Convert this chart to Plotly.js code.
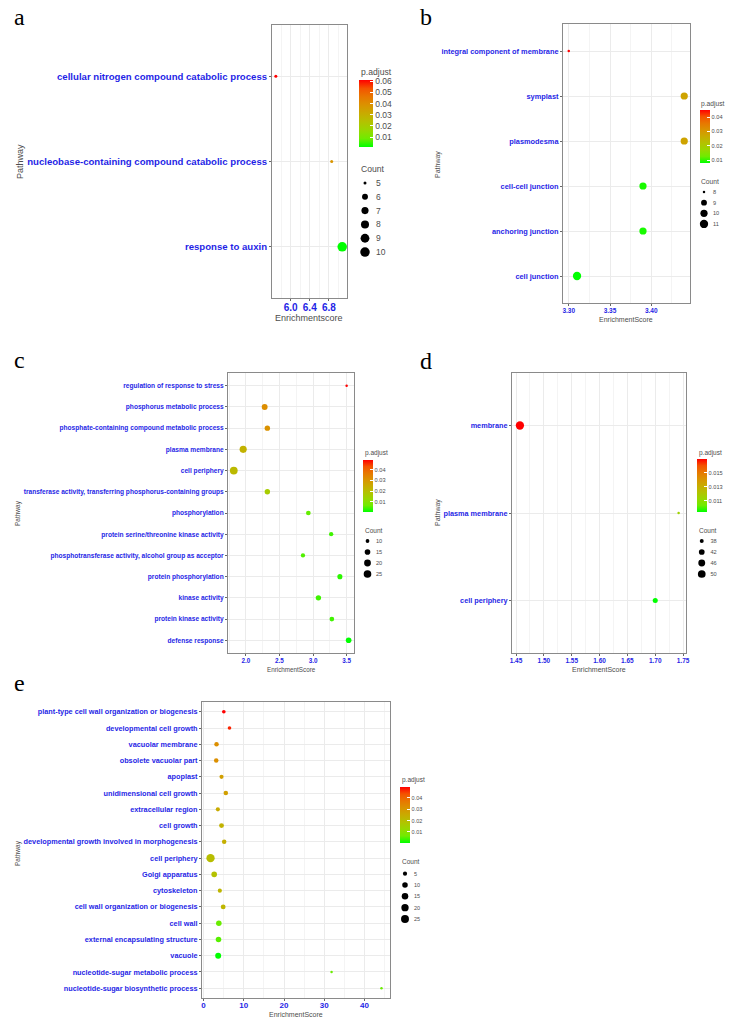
<!DOCTYPE html>
<html>
<head>
<meta charset="utf-8">
<script src="https://cdn.plot.ly/plotly-3.0.1.min.js"></script>
<style>
html,body{margin:0;padding:0;background:#fff;}
#chart{width:736px;height:1027px;}
</style>
</head>
<body>
<div id="chart"></div>
<script>
// ---------------- DATA ----------------
// Panel a
const pathA = ['cellular nitrogen compound catabolic process','nucleobase-containing compound catabolic process','response to auxin'];
const scoreA = [5.69, 6.86, 7.08];
const countA = [5, 5, 10];
const padjA = [0.061, 0.038, 0.0012];
const countBreaksA = [5, 6, 7, 8, 9, 10];
const padjTicksA = [0.01, 0.02, 0.03, 0.04, 0.05, 0.06];

// Panel b
const pathB = ['integral component of membrane','symplast','plasmodesma','cell-cell junction','anchoring junction','cell junction'];
const scoreB = [3.30, 3.44, 3.44, 3.39, 3.39, 3.31];
const countB = [8, 10, 10, 10, 10, 11];
const padjB = [0.045, 0.028, 0.028, 0.009, 0.009, 0.008];
const countBreaksB = [8, 9, 10, 11];
const padjTicksB = [0.01, 0.02, 0.03, 0.04];

// Panel c
const pathC = ['regulation of response to stress','phosphorus metabolic process','phosphate-containing compound metabolic process','plasma membrane','cell periphery','transferase activity, transferring phosphorus-containing groups','phosphorylation','protein serine/threonine kinase activity','phosphotransferase activity, alcohol group as acceptor','protein phosphorylation','kinase activity','protein kinase activity','defense response'];
const scoreC = [3.50, 2.28, 2.32, 1.96, 1.82, 2.32, 2.93, 3.27, 2.85, 3.40, 3.08, 3.28, 3.53];
const countC = [9, 16, 14, 22, 26, 14, 12, 11, 11, 13, 14, 12, 15];
const padjC = [0.049, 0.032, 0.031, 0.023, 0.021, 0.016, 0.006, 0.004, 0.005, 0.003, 0.004, 0.004, 0.0006];
const countBreaksC = [10, 15, 20, 25];
const padjTicksC = [0.01, 0.02, 0.03, 0.04];

// Panel d
const pathD = ['membrane','plasma membrane','cell periphery'];
const scoreD = [1.457, 1.742, 1.700];
const countD = [53, 37, 40];
const padjD = [0.017, 0.0115, 0.0094];
const countBreaksD = [38, 42, 46, 50];
const padjTicksD = [0.011, 0.013, 0.015];

// Panel e
const pathE = ['plant-type cell wall organization or biogenesis','developmental cell growth','vacuolar membrane','obsolete vacuolar part','apoplast','unidimensional cell growth','extracellular region','cell growth','developmental growth involved in morphogenesis','cell periphery','Golgi apparatus','cytoskeleton','cell wall organization or biogenesis','cell wall','external encapsulating structure','vacuole','nucleotide-sugar metabolic process','nucleotide-sugar biosynthetic process'];
const scoreE = [5.04, 6.45, 3.23, 3.15, 4.47, 5.54, 3.56, 4.47, 5.13, 1.74, 2.65, 4.05, 4.88, 3.80, 3.72, 3.64, 31.8, 44.2];
const countE = [4, 4, 6, 6, 5, 6, 5, 7, 6, 28, 10, 5, 7, 10, 10, 12, 3, 3];
const padjE = [0.0497, 0.047, 0.032, 0.032, 0.028, 0.028, 0.025, 0.023, 0.024, 0.020, 0.019, 0.022, 0.022, 0.006, 0.005, 0.0002, 0.006, 0.006];
const countBreaksE = [5, 10, 15, 20, 25];
const padjTicksE = [0.01, 0.02, 0.03, 0.04];

// ---------------- STYLE ----------------
const W = 736, H = 1027;
const px = v => v / W;
const py = v => 1 - v / H;
const FONT = 'Liberation Sans, Arial, Helvetica, sans-serif';
const SERIF = 'Liberation Serif, Times New Roman, serif';
const BLUE = '#1f1fe6';
const GREY = '#4d4d4d';
const CS = [[0,'rgb(0,255,0)'],[0.125,'rgb(112,235,0)'],[0.25,'rgb(152,215,0)'],[0.375,'rgb(179,194,0)'],[0.5,'rgb(200,171,0)'],[0.625,'rgb(218,147,0)'],[0.75,'rgb(232,119,0)'],[0.875,'rgb(244,83,0)'],[1,'rgb(255,0,0)']];

const panels = [
  {path:pathA, score:scoreA, count:countA, padj:padjA, breaks:countBreaksA, cticks:padjTicksA, cfmt:'.2f',
   box:[272,347,25,298], xr:[5.61,7.18], tick0:6.0, dtick:0.4, xfmt:'.1f', xfont:10, xstand:-2, yfont:9.6, dmin:3, dmax:9.5,
   cb:{x:359,y:80,len:67,th:14,font:8.5}, cbTitle:{x:359,y:72,size:8.6},
   leg:{x0:358,x1:372,y0:176,y1:259,font:8.5}, legTitle:{x:359,y:169,size:8.6},
   letter:{t:'a',x:12,y:27}, pathway:{x:20,y:162,size:9}, xtitle:{t:'Enrichmentscore',x:309,y:318,size:9}},
  {path:pathB, score:scoreB, count:countB, padj:padjB, breaks:countBreaksB, cticks:padjTicksB, cfmt:'.2f',
   box:[563,690,24,303], xr:[3.293,3.447], tick0:3.30, dtick:0.05, xfmt:'.2f', xfont:6.5, xstand:-1, yfont:7.4, dmin:2.5, dmax:8.3,
   cb:{x:700,y:110,len:53,th:10,font:5.6}, cbTitle:{x:699,y:104,size:6.7},
   leg:{x0:699,x1:709,y0:186.7,y1:229.3,font:5.6}, legTitle:{x:699,y:181.5,size:6.7},
   letter:{t:'b',x:418,y:27}, pathway:{x:438,y:165,size:7}, xtitle:{t:'EnrichmentScore',x:626,y:319,size:7}},
  {path:pathC, score:scoreC, count:countC, padj:padjC, breaks:countBreaksC, cticks:padjTicksC, cfmt:'.2f',
   box:[228,354,373,653], xr:[1.734,3.61], tick0:2.0, dtick:0.5, xfmt:'.1f', xfont:6.3, xstand:-1, yfont:6.6, dmin:2.5, dmax:7.8,
   cb:{x:363,y:460,len:52,th:10,font:5.6}, cbTitle:{x:363,y:453,size:6.5},
   leg:{x0:363,x1:372,y0:535.5,y1:579.5,font:5.6}, legTitle:{x:363,y:530,size:6.5},
   letter:{t:'c',x:12,y:370}, pathway:{x:18,y:513,size:6.5}, xtitle:{t:'EnrichmentScore',x:291,y:669,size:6.3}},
  {path:pathD, score:scoreD, count:countD, padj:padjD, breaks:countBreaksD, cticks:padjTicksD, cfmt:'.3f',
   box:[512,686,373,653], xr:[1.4428,1.7552], tick0:1.45, dtick:0.05, xfmt:'.2f', xfont:6.5, xstand:-1, yfont:7.3, dmin:2.5, dmax:8.3,
   cb:{x:697,y:459,len:53,th:10,font:5.6}, cbTitle:{x:697,y:453,size:6.5},
   leg:{x0:697,x1:706.5,y0:535.5,y1:579.5,font:5.6}, legTitle:{x:697,y:530,size:6.5},
   letter:{t:'d',x:418,y:370.7}, pathway:{x:438,y:513,size:7}, xtitle:{t:'EnrichmentScore',x:599,y:669.3,size:7}},
  {path:pathE, score:scoreE, count:countE, padj:padjE, breaks:countBreaksE, cticks:padjTicksE, cfmt:'.2f',
   box:[202,390,702,998], xr:[-0.38,46.32], tick0:0, dtick:10, xfmt:'d', xfont:8, xstand:-3, yfont:7.3, dmin:2.5, dmax:8.3,
   cb:{x:400,y:787,len:56,th:10,font:5.5}, cbTitle:{x:400,y:780,size:6.5},
   leg:{x0:400,x1:410,y0:868,y1:924.7,font:5.5}, legTitle:{x:400,y:861,size:6.5},
   letter:{t:'e',x:12,y:692.7}, pathway:{x:18,y:853,size:6.5}, xtitle:{t:'EnrichmentScore',x:296,y:1014,size:7}}
];

function sizeScale(counts, dmin, dmax) {
  const lo = Math.min(...counts), hi = Math.max(...counts);
  return c => {
    const t = Math.max(0, Math.min(1, (c - lo) / (hi - lo)));
    return dmin + (dmax - dmin) * Math.sqrt(t);
  };
}

const traces = [];
const layout = {
  width: W, height: H,
  margin: {l:0, r:0, t:0, b:0},
  paper_bgcolor: '#fff', plot_bgcolor: '#fff',
  showlegend: false,
  font: {family: FONT, color: GREY},
  annotations: []
};

panels.forEach((p, i) => {
  const n = i + 1;
  const sfx = n === 1 ? '' : String(n);
  const ln = n + 5;
  const sz = sizeScale(p.count, p.dmin, p.dmax);
  const cmin = Math.min(...p.padj), cmax = Math.max(...p.padj);

  traces.push({
    type: 'scatter', mode: 'markers',
    x: p.score, y: p.path,
    xaxis: 'x' + sfx, yaxis: 'y' + sfx,
    marker: {
      size: p.count.map(sz), color: p.padj, colorscale: CS, cmin: cmin, cmax: cmax,
      line: {width: 0}, opacity: 1,
      showscale: true,
      colorbar: {
        x: px(p.cb.x), xanchor: 'left', y: py(p.cb.y), yanchor: 'top',
        len: p.cb.len, lenmode: 'pixels', thickness: p.cb.th, thicknessmode: 'pixels',
        xpad: 0, ypad: 0, outlinewidth: 0,
        tickmode: 'array', tickvals: p.cticks, tickformat: p.cfmt,
        ticks: 'inside', ticklen: 3, tickcolor: '#ffffff', tickwidth: 1,
        tickfont: {family: FONT, size: p.cb.font, color: GREY},
        title: {text: ''}
      }
    },
    hoverinfo: 'skip'
  });

  // size legend
  traces.push({
    type: 'scatter', mode: 'markers',
    x: p.breaks.map(() => 0), y: p.breaks.map(String),
    xaxis: 'x' + ln, yaxis: 'y' + ln,
    marker: {size: p.breaks.map(sz), color: '#000000', opacity: 1, line: {width: 0}},
    hoverinfo: 'skip'
  });

  layout['xaxis' + sfx] = {
    domain: [px(p.box[0]), px(p.box[1])], anchor: 'y' + sfx,
    range: p.xr, tickmode: 'linear', tick0: p.tick0, dtick: p.dtick, tickformat: p.xfmt,
    showline: true, mirror: true, linecolor: '#8a8a8a', linewidth: 1,
    showgrid: true, gridcolor: '#ebebeb', gridwidth: 1, zeroline: false,
    ticks: 'outside', ticklen: 2, tickcolor: '#666', tickwidth: 1,
    ticklabelstandoff: p.xstand,
    tickfont: {family: FONT, size: p.xfont, color: BLUE, weight: 'bold'},
    minor: {tick0: p.tick0, dtick: p.dtick / 2, showgrid: true, gridcolor: '#f4f4f4', gridwidth: 1, ticks: ''},
    fixedrange: true
  };
  layout['yaxis' + sfx] = {
    domain: [py(p.box[3]), py(p.box[2])], anchor: 'x' + sfx,
    type: 'category', categoryorder: 'array', categoryarray: p.path,
    range: [p.path.length - 0.4, -0.6],
    showline: true, mirror: true, linecolor: '#8a8a8a', linewidth: 1,
    showgrid: true, gridcolor: '#ebebeb', gridwidth: 1, zeroline: false,
    ticks: 'outside', ticklen: 2, tickcolor: '#666', tickwidth: 1,
    tickfont: {family: FONT, size: p.yfont, color: BLUE, weight: 'bold'},
    fixedrange: true
  };
  layout['xaxis' + ln] = {
    domain: [px(p.leg.x0), px(p.leg.x1)], anchor: 'y' + ln,
    range: [-1, 1], visible: false, fixedrange: true
  };
  layout['yaxis' + ln] = {
    domain: [py(p.leg.y1), py(p.leg.y0)], anchor: 'x' + ln,
    type: 'category', categoryorder: 'array', categoryarray: p.breaks.map(String),
    range: [p.breaks.length - 0.5, -0.5], side: 'right',
    showline: false, showgrid: false, zeroline: false, ticks: '',
    ticklabelstandoff: 3,
    tickfont: {family: FONT, size: p.leg.font, color: GREY},
    fixedrange: true
  };

  const A = layout.annotations;
  A.push({xref:'paper', yref:'paper', x: px(p.letter.x), y: py(p.letter.y + 5.3), xanchor:'left', yanchor:'bottom',
    text: p.letter.t, showarrow:false, font:{family: SERIF, size: 24, color:'#000'}});
  A.push({xref:'paper', yref:'paper', x: px(p.pathway.x), y: py(p.pathway.y), xanchor:'center', yanchor:'middle',
    text: 'Pathway', textangle: -90, showarrow:false, font:{family: FONT, size: p.pathway.size, color: GREY}});
  A.push({xref:'paper', yref:'paper', x: px(p.xtitle.x), y: py(p.xtitle.y), xanchor:'center', yanchor:'middle',
    text: p.xtitle.t, showarrow:false, font:{family: FONT, size: p.xtitle.size, color: GREY}});
  A.push({xref:'paper', yref:'paper', x: px(p.cbTitle.x), y: py(p.cbTitle.y), xanchor:'left', yanchor:'middle',
    text: 'p.adjust', showarrow:false, font:{family: FONT, size: p.cbTitle.size, color: GREY}});
  A.push({xref:'paper', yref:'paper', x: px(p.legTitle.x), y: py(p.legTitle.y), xanchor:'left', yanchor:'middle',
    text: 'Count', showarrow:false, font:{family: FONT, size: p.legTitle.size, color: GREY}});
});

Plotly.newPlot('chart', traces, layout, {staticPlot: true, displayModeBar: false});
</script>
</body>
</html>
